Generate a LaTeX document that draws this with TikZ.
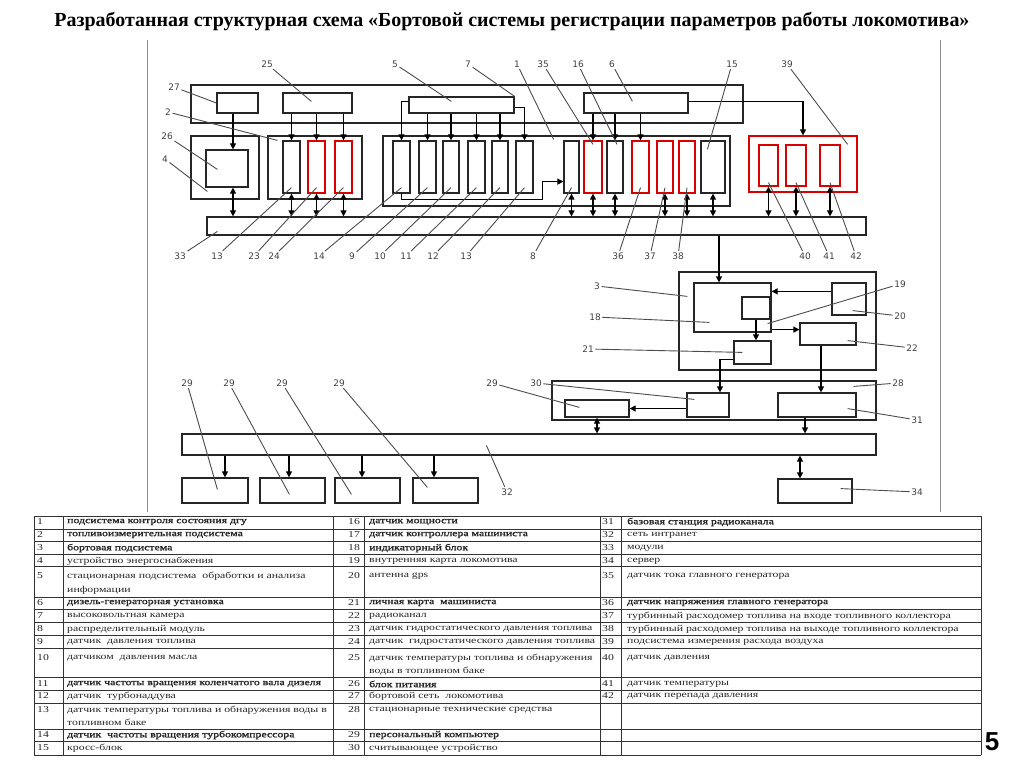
\documentclass[tikz,border=0pt]{standalone}
\usepackage{fontspec}
\setmainfont{Liberation Serif}
\newfontfamily\lblfont{DejaVu Sans}
\newfontfamily\tabfont[FakeStretch=1.31]{Liberation Serif}
\newfontfamily\tabbold[FakeStretch=1.31,FakeBold=1.6]{Liberation Serif}
\newfontfamily\pgfont{Liberation Sans}
\usetikzlibrary{calc,fit,arrows.meta}

\tikzset{
  blk/.style={draw=black!85, line width=1.2pt, inner sep=0pt},
  redblk/.style={blk, draw=red!85!black},
  lbl/.style={font=\lblfont\fontsize{9}{9}\selectfont, text=black!75, inner sep=1.5pt},
  ldr/.style={draw=black!70, line width=0.9pt},
  arr/.style={line width=1.2pt, -{Triangle[length=6pt,width=6pt]}},
  dbl/.style={line width=1.2pt, {Triangle[length=6pt,width=6pt]}-{Triangle[length=6pt,width=6pt]}},
  frm/.style={draw=black!45, line width=0.6pt},
  tabline/.style={draw=black!80, line width=0.8pt},
  tab/.style={font=\tabfont\fontsize{9}{10}\selectfont, anchor=west, inner sep=0pt, text=black!85},
}

\begin{document}
\begin{tikzpicture}[x=1pt,y=-1pt]
    \useasboundingbox (0,0) rectangle (1024,767);

    % Title
    \node (title) at (512,22) {\resizebox{915pt}{!}{\bfseries\fontsize{20}{24}\selectfont Разработанная структурная схема «Бортовой системы регистрации параметров работы локомотива»}};

    % Frame of the scheme
    \draw[frm] (147,40) -- (147,512);
    \draw[frm] (940,40) -- (940,512);

    % Onboard network and upper blocks
    \node[blk, fit={(191,85) (743,123)}] (net) {};
    \node[blk, fit={(217,93) (258,113)}] (b27) {};
    \node[blk, fit={(283,93) (352,113)}] (b25) {};
    \node[blk, fit={(409,97) (514,113)}] (b5) {};
    \node[blk, fit={(584,93) (688,113)}] (b6) {};

    % Power supply
    \node[blk, fit={(191,136) (259,199)}] (g4) {};
    \node[blk, fit={(206,150) (248,187)}] (b26) {};

    % Fuel measuring subsystem
    \node[blk, fit={(268,136) (362,199)}] (g2) {};
    \node[blk, fit={(283,141) (300,193)}] (s13a) {};
    \node[redblk, fit={(308,141) (325,193)}] (s23) {};
    \node[redblk, fit={(335,141) (352,193)}] (s24) {};

    % DGU control subsystem
    \node[blk, fit={(383,136) (730,206)}] (g1) {};
    \foreach \n/\a/\b in {s14/393/410, s9/419/436, s10/443/459, s11/468/485, s12/492/508, s13/516/533, s8/564/579, s16/607/623, s15/701/725}
        \node[blk, fit={(\a,141) (\b,193)}] (\n) {};
    \foreach \n/\a/\b in {s35/584/602, s36/632/649, s37/657/673, s38/679/695}
        \node[redblk, fit={(\a,141) (\b,193)}] (\n) {};

    % Air flow subsystem
    \node[redblk, fit={(749,136) (857,192)}] (g39) {};
    \foreach \n/\a/\b in {s40/759/778, s41/786/806, s42/820/840}
        \node[redblk, fit={(\a,145) (\b,186)}] (\n) {};

    % Modules
    \node[blk, fit={(207,217) (866,235)}] (bus33) {};

    % Upper arrows
    \coordinate (c4) at (233,0);
    \draw[arr] (b27.south -| c4) -- (b26.north -| c4);
    \draw[dbl] (b26.south -| c4) -- (bus33.north -| c4);
    \foreach \s in {s13a,s23,s24} {
        \draw[arr] (b25.south -| \s) -- (\s.north);
        \draw[dbl] (\s.south) -- (\s.south |- bus33.north);
    }
    \draw[arr] ($(b5.north west)+(0,5)$) -| (s14.north);
    \foreach \s in {s9,s10,s11,s12}
        \draw[arr] (b5.south -| \s) -- (\s.north);
    \draw[arr] ($(b5.north east)+(0,11)$) -| (s13.north);
    \draw[arr] (s14.south) -- ++(0,6) -| ($(s8.south west)+(-21,-12)$) -- ($(s8.south west)+(0,-12)$);
    \foreach \s in {s35,s16,s36}
        \draw[arr] (b6.south -| \s) -- (\s.north);
    \draw[arr] ($(b6.north east)+(0,9)$) -| (g39.north);
    \foreach \s in {s8,s35,s16,s37,s38,s15,s40,s41,s42}
        \draw[dbl] (\s.south) -- (\s.south |- bus33.north);

    % Onboard subsystem
    \node[blk, fit={(679,272) (876,370)}] (g3) {};
    \node[blk, fit={(694,283) (771,332)}] (b18) {};
    \node[blk, fit={(742,297) (770,319)}] (b19) {};
    \node[blk, fit={(832,283) (866,315)}] (b20) {};
    \node[blk, fit={(800,323) (856,345)}] (b22) {};
    \node[blk, fit={(734,341) (771,364)}] (b21) {};
    \coordinate (c3) at (719,0);
    \draw[arr] (bus33.south -| c3) -- (b18.north -| c3);
    \draw[arr] ($(b20.north west)+(0,9)$) -- ($(b18.north east)+(0,9)$);
    \draw[arr] (b19.south) -- (b19.south |- b21.north);
    \coordinate (c18) at ($(b18.south east)+(0,-3)$);
    \draw[arr] (c18) -- (c18 -| b22.west);

    % Stationary means
    \node[blk, fit={(552,381) (876,420)}] (g28) {};
    \node[blk, fit={(565,400) (629,417)}] (b29) {};
    \node[blk, fit={(687,393) (729,417)}] (b30) {};
    \node[blk, fit={(778,393) (856,417)}] (b31) {};
    \coordinate (c21) at (720,0);
    \draw[arr] ($(b21.south west)+(0,-5)$) -| (b30.north -| c21);
    \coordinate (c22) at (821,0);
    \draw[arr] (b22.south -| c22) -- (b31.north -| c22);
    \draw[arr] (b30.west |- b29) -- (b29.east);

    % Intranet, computers, server
    \node[blk, fit={(182,434) (876,455)}] (bus32) {};
    \node[blk, fit={(778,479) (852,503)}] (b34) {};
    \foreach \i/\a/\b/\x in {1/182/248/225, 2/260/325/289, 3/335/400/362, 4/413/478/434} {
        \node[blk, fit={(\a,478) (\b,503)}] (pc\i) {};
        \coordinate (cx) at (\x,0);
        \draw[arr] (bus32.south -| cx) -- (pc\i.north -| cx);
    }
    \draw[dbl] (b29.south) -- (b29.south |- bus32.north);
    \coordinate (c31) at (805,0);
    \draw[arr] (b31.south -| c31) -- (bus32.north -| c31);
    \coordinate (c34) at (800,0);
    \draw[dbl] (bus32.south -| c34) -- (b34.north -| c34);

    % Labels, top
    \node[lbl] (n25) at (267,64) {25};
    \node[lbl] (n5) at (395,64) {5};
    \node[lbl] (n7) at (468,64) {7};
    \node[lbl] (n1) at (517,64) {1};
    \node[lbl] (n35) at (543,64) {35};
    \node[lbl] (n16) at (578,64) {16};
    \node[lbl] (n6) at (612,64) {6};
    \node[lbl] (n15) at (732,64) {15};
    \node[lbl] (n39) at (787,64) {39};
    \node[lbl] (n27) at (174,87) {27};
    \node[lbl] (n2) at (168,112) {2};
    \node[lbl] (n26) at (167,136) {26};
    \node[lbl] (n4) at (165,159) {4};
    \draw[ldr] (n25) -- ($(b25.north west)+(29,9)$);
    \draw[ldr] (n5) -- ($(b5.north west)+(43,5)$);
    \draw[ldr] (n7) -- (b5.north east);
    \draw[ldr] (n1) -- ($(g1.north east)+(-177,4)$);
    \draw[ldr] (n35) -- ($(s35.north)+(0,4)$);
    \draw[ldr] (n16) -- ($(s16.north)+(2,4)$);
    \draw[ldr] (n6) -- ($(b6.north west)+(49,9)$);
    \draw[ldr] (n15) -- ($(s15.north west)+(7,9)$);
    \draw[ldr] (n39) -- ($(g39.north east)+(-10,9)$);
    \draw[ldr] (n27) -- (b27.west);
    \draw[ldr] (n2) -- ($(g2.north west)+(10,5)$);
    \draw[ldr] (n26) -- ($(b26.north west)+(12,20)$);
    \draw[ldr] (n4) -- ($(g4.north west)+(17,56)$);

    % Labels, under the modules
    \node[lbl] (n33) at (180,256) {33};
    \draw[ldr] (n33) -- ($(bus33.north west)+(11,15)$);
    \foreach \t/\x/\s in {13/217/s13a, 23/254/s23, 24/274/s24, 14/319/s14, 9/352/s9, 10/380/s10, 11/406/s11, 12/433/s12, 13/466/s13, 8/533/s8, 36/618/s36, 37/650/s37, 38/678/s38} {
        \node[lbl] (n\s) at (\x,256) {\t};
        \draw[ldr] (n\s) -- ($(\s.south)+(0,-6)$);
    }
    \foreach \t/\x/\s in {40/805/s40, 41/829/s41, 42/856/s42} {
        \node[lbl] (n\s) at (\x,256) {\t};
        \draw[ldr] (n\s) -- ($(\s.south)+(0,-4)$);
    }

    % Labels, middle and bottom
    \node[lbl] (n3) at (597,286) {3};
    \node[lbl] (n18) at (595,317) {18};
    \node[lbl] (n21) at (588,349) {21};
    \node[lbl] (n19) at (900,284) {19};
    \node[lbl] (n20) at (900,316) {20};
    \node[lbl] (n22) at (912,348) {22};
    \node[lbl] (n28) at (898,383) {28};
    \node[lbl] (n31) at (917,420) {31};
    \node[lbl] (n34) at (917,492) {34};
    \node[lbl] (n30) at (536,383) {30};
    \node[lbl] (n29) at (492,383) {29};
    \node[lbl] (n32) at (507,492) {32};
    \draw[ldr] (n3) -- ($(g3.north west)+(9,25)$);
    \draw[ldr] (n18) -- ($(b18.north west)+(16,40)$);
    \draw[ldr] (n21) -- ($(b21.north west)+(9,12)$);
    \draw[ldr] (n19) -- ($(b19.south east)+(-3,4)$);
    \draw[ldr] (n20) -- ($(b20.south east)+(-14,-5)$);
    \draw[ldr] (n22) -- ($(b22.south east)+(-9,-5)$);
    \draw[ldr] (n28) -- ($(g28.north east)+(-23,6)$);
    \draw[ldr] (n31) -- ($(b31.south east)+(-9,-9)$);
    \draw[ldr] (n34) -- ($(b34.south east)+(-12,-15)$);
    \draw[ldr] (n30) -- ($(b30.north west)+(8,7)$);
    \draw[ldr] (n29) -- ($(b29.north west)+(15,8)$);
    \draw[ldr] (n32) -- ($(bus32.north west)+(305,12)$);
    \foreach \i/\x/\dx/\dy in {1/187/36/12, 2/229/30/17, 3/282/17/17, 4/339/15/10} {
        \node[lbl] (npc\i) at (\x,383) {29};
        \draw[ldr] (npc\i) -- ($(pc\i.north west)+(\dx,\dy)$);
    }

    % Table grid
    \foreach \y in {516,529,541,554,566,597,609,622,635,648,677,690,703,729,741,755}
        \draw[tabline] (34,\y) -- (981,\y);
    \foreach \x in {34,63,333,364,600,621,981}
        \draw[tabline] (\x,516) -- (\x,755);

    % Table, first column
    \foreach \n/\y/\t in {1/522/{\tabbold подсистема контроля состояния дгу}, 2/535/{\tabbold топливоизмерительная подсистема}, 3/548/{\tabbold бортовая подсистема}, 4/561/{устройство энергоснабжения}, 5/576/{стационарная подсистема \ обработки и анализа}, 6/603/{\tabbold дизель-генераторная установка}, 7/616/{высоковольтная камера}, 8/629/{распределительный модуль}, 9/642/{датчик \ давления топлива}, 10/658/{датчиком \ давления масла}, 11/684/{\tabbold датчик частоты вращения коленчатого вала дизеля}, 12/696/{датчик \ турбонаддува}, 13/710/{датчик температуры топлива и обнаружения воды в}, 14/735/{\tabbold датчик \ частоты вращения турбокомпрессора}, 15/748/{кросс-блок}} {
        \node[tab] at (37,\y) {\n};
        \node[tab] (t\n) at (67,\y) {\t};
    }
    \node[tab] (t5b) at (67,590) {информации};
    \node[tab] (t13b) at (67,722) {топливном баке};

    % Table, second column
    \foreach \n/\y/\t in {16/522/{\tabbold датчик мощности}, 17/535/{\tabbold датчик контроллера машиниста}, 18/548/{\tabbold индикаторный блок}, 19/561/{внутренняя карта локомотива}, 20/576/{антенна gps}, 21/603/{\tabbold личная карта \ машиниста}, 22/616/{радиоканал}, 23/629/{датчик гидростатического давления топлива}, 24/642/{датчик \ гидростатического давления топлива}, 25/658/{датчик температуры топлива и обнаружения}, 26/684/{\tabbold блок питания}, 27/696/{бортовой сеть \ локомотива}, 28/710/{стационарные технические средства}, 29/735/{\tabbold персональный компьютер}, 30/748/{считывающее устройство}} {
        \node[tab] at (348,\y) {\n};
        \node[tab] (t\n) at (369,\y) {\t};
    }
    \node[tab] (t25b) at (369,671) {воды в топливном баке};

    % Table, third column
    \foreach \n/\y/\t in {31/522/{\tabbold базовая станция радиоканала}, 32/535/{сеть интранет}, 33/548/{модули}, 34/561/{сервер}, 35/576/{датчик тока главного генератора}, 36/603/{\tabbold датчик напряжения главного генератора}, 37/616/{турбинный расходомер топлива на входе топливного коллектора}, 38/629/{турбинный расходомер топлива на выходе топливного коллектора}, 39/642/{подсистема измерения расхода воздуха}, 40/658/{датчик давления}, 41/684/{датчик температуры}, 42/696/{датчик перепада давления}} {
        \node[tab] at (602,\y) {\n};
        \node[tab] (t\n) at (627,\y) {\t};
    }

    % Page number
    \node[font=\pgfont\bfseries\fontsize{26}{26}\selectfont] (page) at (992,742) {5};
\end{tikzpicture}
\end{document}
